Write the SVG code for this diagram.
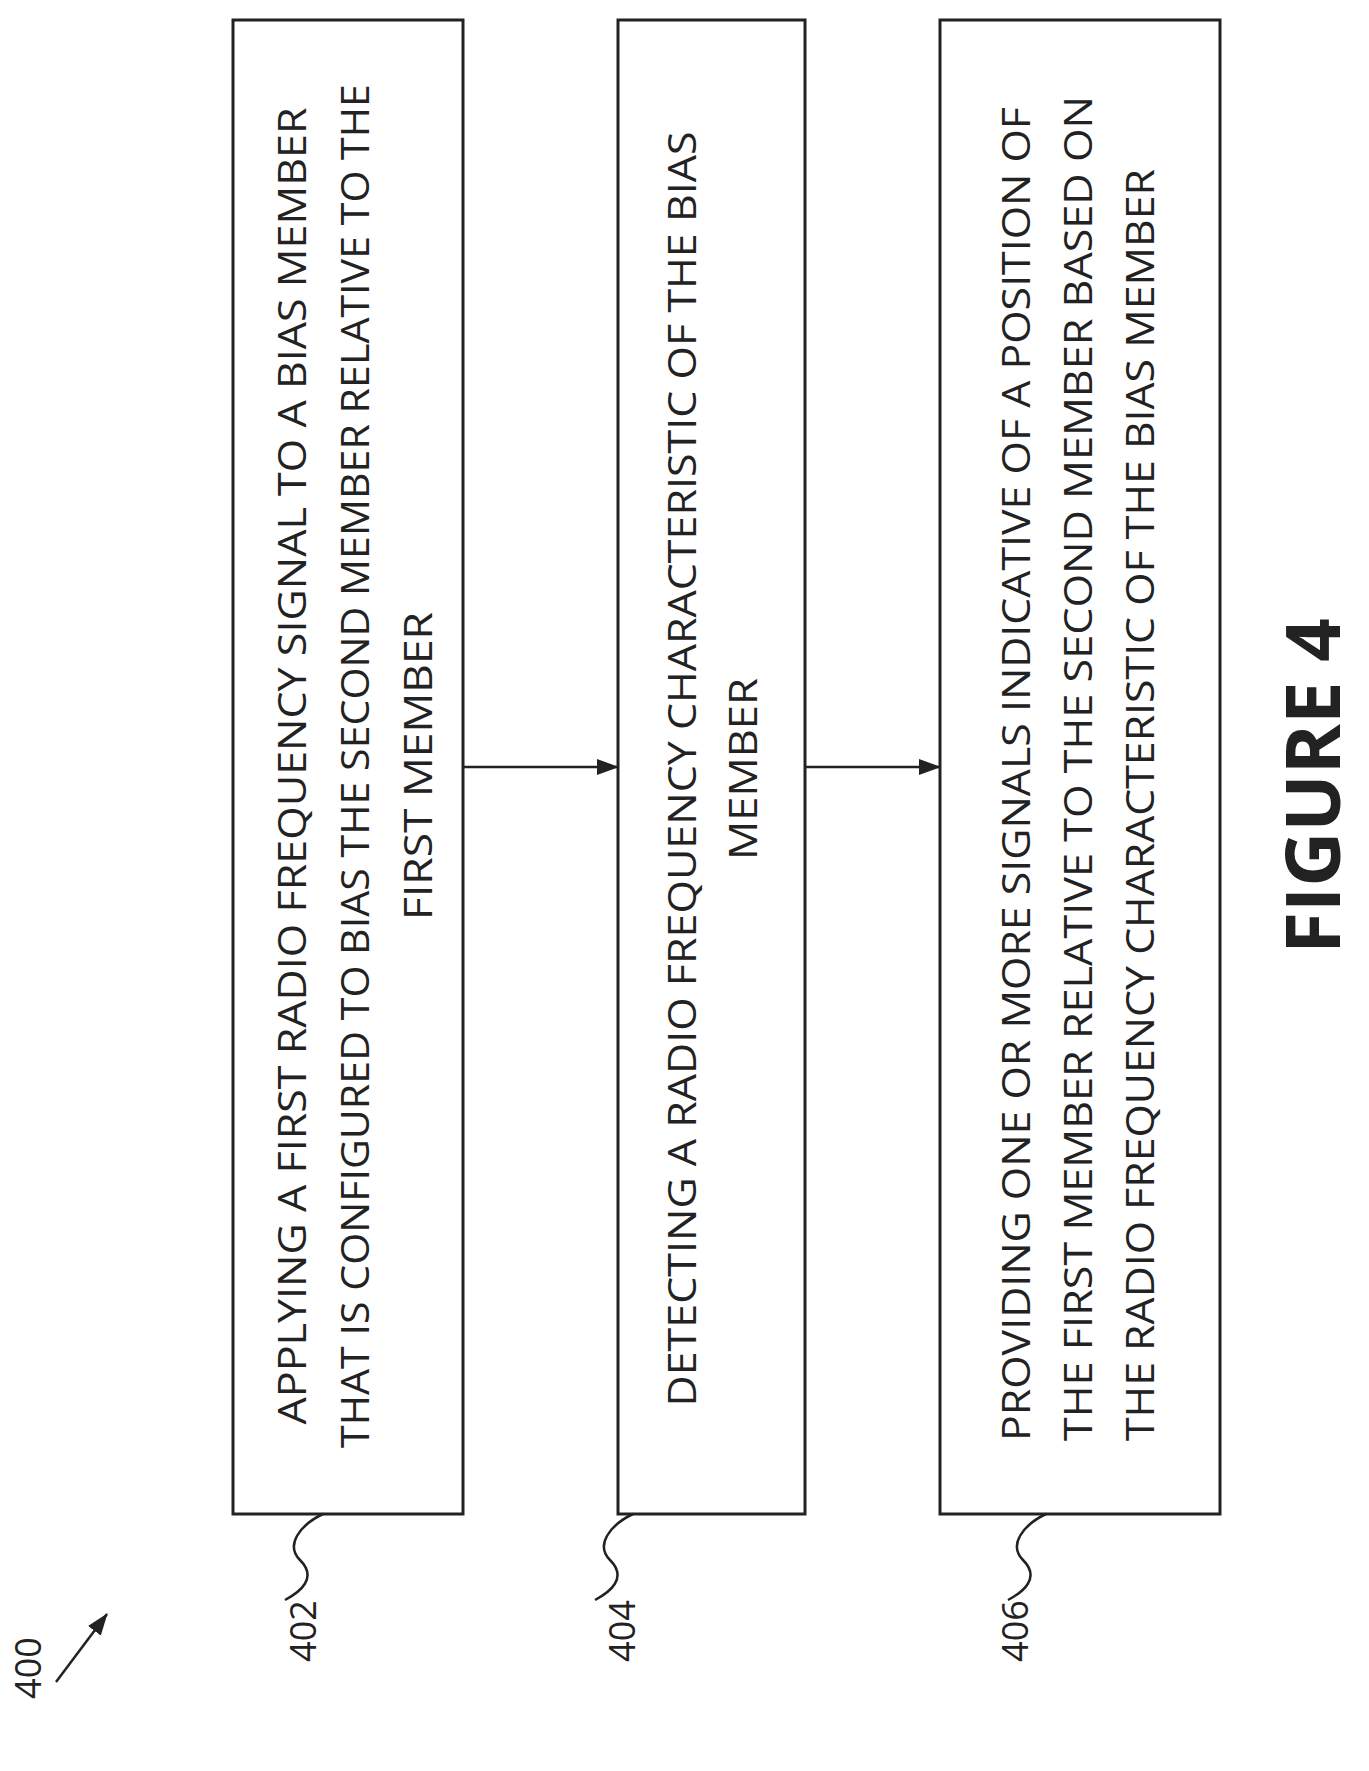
<svg xmlns="http://www.w3.org/2000/svg" width="1369" height="1771" viewBox="0 0 1369 1771">
<style>
.box{fill:#fff;stroke:#222;stroke-width:3}
.t{font-family:"Open Sans","Liberation Sans",sans-serif;font-size:38px;fill:#222}
.ln{fill:none;stroke:#222;stroke-width:2.5}
</style>
<defs><marker id="ah" markerWidth="22" markerHeight="16" refX="21" refY="8" orient="auto" markerUnits="userSpaceOnUse"><path d="M0,0 L22,8 L0,16 Z" fill="#222"/></marker></defs>
<rect width="1369" height="1771" fill="#fff"/>
<g id="n402">
<rect class="box" x="233" y="20" width="230" height="1494"/>
<g class="t" text-anchor="middle">
<text transform="translate(306,766) rotate(-90)" textLength="1317" lengthAdjust="spacingAndGlyphs">APPLYING A FIRST RADIO FREQUENCY SIGNAL TO A BIAS MEMBER</text>
<text transform="translate(369,766) rotate(-90)" textLength="1364" lengthAdjust="spacingAndGlyphs">THAT IS CONFIGURED TO BIAS THE SECOND MEMBER RELATIVE TO THE</text>
<text transform="translate(432,766) rotate(-90)" textLength="308" lengthAdjust="spacingAndGlyphs">FIRST MEMBER</text>
</g>
</g>
<g id="n404">
<rect class="box" x="618" y="20" width="187" height="1494"/>
<g class="t" text-anchor="middle">
<text transform="translate(696,769) rotate(-90)" textLength="1275" lengthAdjust="spacingAndGlyphs">DETECTING A RADIO FREQUENCY CHARACTERISTIC OF THE BIAS</text>
<text transform="translate(757,769) rotate(-90)" textLength="182" lengthAdjust="spacingAndGlyphs">MEMBER</text>
</g>
</g>
<g id="n406">
<rect class="box" x="940" y="20" width="280" height="1494"/>
<g class="t" text-anchor="start">
<text transform="translate(1030,1441) rotate(-90)" textLength="1334" lengthAdjust="spacingAndGlyphs">PROVIDING ONE OR MORE SIGNALS INDICATIVE OF A POSITION OF</text>
<text transform="translate(1092,1441) rotate(-90)" textLength="1345" lengthAdjust="spacingAndGlyphs">THE FIRST MEMBER RELATIVE TO THE SECOND MEMBER BASED ON</text>
<text transform="translate(1154,1441) rotate(-90)" textLength="1272" lengthAdjust="spacingAndGlyphs">THE RADIO FREQUENCY CHARACTERISTIC OF THE BIAS MEMBER</text>
</g>
</g>
<g id="connectors">
<line class="ln" x1="463" y1="767" x2="618" y2="767" marker-end="url(#ah)"/>
<line class="ln" x1="805" y1="767" x2="940" y2="767" marker-end="url(#ah)"/>
<path class="ln" d="M323,1514 C300,1525 285,1545 300,1560 C318,1578 300,1592 285,1600"/>
<path class="ln" d="M633,1514 C610,1525 595,1545 610,1560 C628,1578 610,1592 595,1600"/>
<path class="ln" d="M1046,1514 C1023,1525 1008,1545 1023,1560 C1041,1578 1023,1592 1008,1600"/>
<line class="ln" x1="56" y1="1682" x2="107" y2="1614" marker-end="url(#ah)"/>
</g>
<g id="labels" class="t" text-anchor="middle" style="font-size:36px">
<text transform="translate(316,1631) rotate(-90)">402</text>
<text transform="translate(635,1631) rotate(-90)">404</text>
<text transform="translate(1028,1631) rotate(-90)">406</text>
<text transform="translate(41,1668) rotate(-90)">400</text>
</g>
<text transform="translate(1340,786) rotate(-90)" text-anchor="middle" style="font-family:'Open Sans','Liberation Sans',sans-serif;font-weight:bold;font-size:76px;fill:#222">FIGURE 4</text>
</svg>
